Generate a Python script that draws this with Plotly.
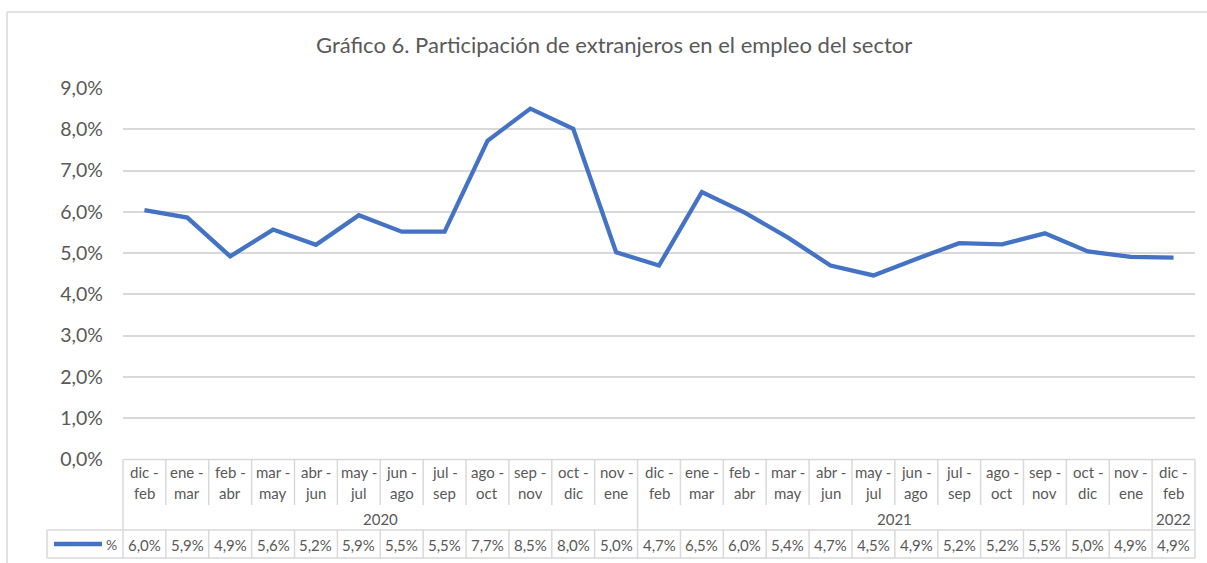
import plotly.graph_objects as go

# ---------------- data ----------------
mes_inicio = ["dic", "ene", "feb", "mar", "abr", "may", "jun", "jul", "ago", "sep", "oct", "nov",
              "dic", "ene", "feb", "mar", "abr", "may", "jun", "jul", "ago", "sep", "oct", "nov",
              "dic"]
mes_fin = ["feb", "mar", "abr", "may", "jun", "jul", "ago", "sep", "oct", "nov", "dic", "ene",
           "feb", "mar", "abr", "may", "jun", "jul", "ago", "sep", "oct", "nov", "dic", "ene",
           "feb"]
anios = ["2020", "2021", "2022"]
periodos_por_anio = [12, 12, 1]
participacion = [6.04, 5.86, 4.92, 5.57, 5.20, 5.92, 5.52, 5.52, 7.72, 8.50, 8.01, 5.02,
                 4.70, 6.48, 5.98, 5.38, 4.70, 4.46, 4.86, 5.24, 5.21, 5.48, 5.04, 4.91, 4.89]
serie_nombre = "%"
titulo = "Gráfico 6. Participación de extranjeros en el empleo del sector"

# ---------------- layout helpers ----------------
W, H = 1207, 563
def px(x):
    return x / W
def py(y):
    return 1 - y / H

FONT = "Lato, Calibri, Carlito, sans-serif"
GRAY_TXT = "#595959"
GRID = "#d9d9d9"
BLUE = "#4472C4"

n = len(participacion)
anio_de = []
for a, c in zip(anios, periodos_por_anio):
    anio_de += [a] * c
cats = [f"{anio_de[i]} {mes_inicio[i]} - {mes_fin[i]}" for i in range(n)]
valores = [v / 100 for v in participacion]

fig = go.Figure()
fig.add_trace(go.Scatter(
    x=cats, y=valores, mode="lines", name=serie_nombre,
    line=dict(color=BLUE, width=4.3), showlegend=False, hoverinfo="skip",
))

PLOT_L, PLOT_R = 123, 1195
Y_TOP, Y_ZERO = 88, 459.5
ROW1_BOT = 505
ROW_DATA_TOP = 530
TABLE_BOT = 558
LEG_L = 47

shapes = []
def hline(y, x0, x1, xref="paper"):
    shapes.append(dict(type="line", xref=xref, yref="paper", x0=x0, x1=x1, y0=py(y), y1=py(y),
                       line=dict(color=GRID, width=1.5)))
def vline(x, y0, y1, xref="paper"):
    shapes.append(dict(type="line", xref=xref, yref="paper", x0=x, x1=x, y0=py(y0), y1=py(y1),
                       line=dict(color=GRID, width=1.5)))

# outer chart border
shapes.append(dict(type="line", xref="paper", yref="paper", x0=px(7), x1=px(1207), y0=py(12), y1=py(12),
                   line=dict(color=GRID, width=1.5)))
shapes.append(dict(type="line", xref="paper", yref="paper", x0=px(7), x1=px(7), y0=py(12), y1=py(563),
                   line=dict(color=GRID, width=1.5)))

# table borders
hline(Y_ZERO, px(PLOT_L), px(PLOT_R))
hline(ROW_DATA_TOP, px(LEG_L), px(PLOT_R))
hline(TABLE_BOT, px(LEG_L), px(PLOT_R))
vline(px(PLOT_L), Y_ZERO, TABLE_BOT)
vline(px(PLOT_R), Y_ZERO, TABLE_BOT)
vline(px(LEG_L), ROW_DATA_TOP, TABLE_BOT)

# column separators
group_ends = []
acc = 0
for c in periodos_por_anio[:-1]:
    acc += c
    group_ends.append(acc - 1)
for i in range(n - 1):
    b = i + 0.5
    if i in group_ends:
        vline(b, Y_ZERO, TABLE_BOT, xref="x")
    else:
        vline(b, Y_ZERO, ROW1_BOT, xref="x")
        vline(b, ROW_DATA_TOP, TABLE_BOT, xref="x")

# legend key in the table
shapes.append(dict(type="line", xref="paper", yref="paper", x0=px(54), x1=px(102), y0=py(544), y1=py(544),
                   line=dict(color=BLUE, width=4.5)))

annotations = []
TBL_SIZE = 15
for i in range(n):
    annotations.append(dict(x=cats[i], y=py(472), xref="x", yref="paper", text=f"{mes_inicio[i]} -",
                            showarrow=False, font=dict(family=FONT, size=TBL_SIZE, color=GRAY_TXT),
                            xanchor="center", yanchor="middle"))
    annotations.append(dict(x=cats[i], y=py(493), xref="x", yref="paper", text=mes_fin[i],
                            showarrow=False, font=dict(family=FONT, size=TBL_SIZE, color=GRAY_TXT),
                            xanchor="center", yanchor="middle"))
    txt = f"{participacion[i]:.1f}".replace(".", ",") + "%"
    annotations.append(dict(x=cats[i], y=py(545), xref="x", yref="paper", text=txt,
                            showarrow=False, font=dict(family=FONT, size=TBL_SIZE, color=GRAY_TXT),
                            xanchor="center", yanchor="middle"))
start = 0
for a, c in zip(anios, periodos_por_anio):
    center = start + (c - 1) / 2
    annotations.append(dict(x=center, y=py(519), xref="x", yref="paper", text=a,
                            showarrow=False, font=dict(family=FONT, size=TBL_SIZE, color=GRAY_TXT),
                            xanchor="center", yanchor="middle"))
    start += c

annotations.append(dict(x=px(104), y=py(544), xref="paper", yref="paper", text=serie_nombre,
                        showarrow=False, font=dict(family=FONT, size=14, color=GRAY_TXT),
                        xanchor="left", yanchor="middle"))
annotations.append(dict(x=px(614), y=py(45), xref="paper", yref="paper", text=titulo,
                        showarrow=False, font=dict(family=FONT, size=22, color=GRAY_TXT),
                        xanchor="center", yanchor="middle"))

fig.update_layout(
    template="none",
    width=W, height=H, autosize=False,
    margin=dict(l=0, r=0, t=0, b=0, pad=0),
    paper_bgcolor="white", plot_bgcolor="white",
    separators=",.",
    xaxis=dict(domain=[px(PLOT_L), px(PLOT_R)], type="category", range=[-0.5, n - 0.5],
               automargin=False,
               showticklabels=False, showgrid=False, zeroline=False, showline=False, ticks=""),
    yaxis=dict(domain=[py(Y_ZERO), py(Y_TOP)], range=[0, 0.09], dtick=0.01, tickformat=".1%",
               automargin=False,
               showgrid=True, gridcolor=GRID, gridwidth=1.5, zeroline=False, showline=False,
               ticks="", ticklabelstandoff=19,
               tickfont=dict(family=FONT, size=19.5, color=GRAY_TXT)),
    shapes=shapes,
    annotations=annotations,
    showlegend=False,
)

fig.write_html("out.html", config={"displayModeBar": False},
               post_script="document.body.style.margin='0';document.body.style.overflow='hidden';")
